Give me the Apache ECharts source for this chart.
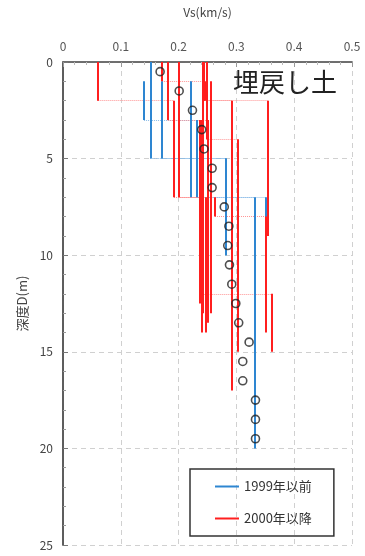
<!DOCTYPE html>
<html><head><meta charset="utf-8">
<script src="https://cdn.jsdelivr.net/npm/echarts@6/dist/echarts.min.js"></script>
<style>html,body{margin:0;padding:0;background:#fff}#c{width:365px;height:556px}</style>
</head><body><div id="c"></div>
<script>
// Vs profiles: each layer = [Vs (km/s), top depth (m), bottom depth (m)]
const pre1999 = [
  [[0.151,0,5],[0.282,5,10]],
  [[0.140,1,3],[0.231,3,7],[0.351,7,12]],
  [[0.221,1,7],[0.331,7,20]],
  [[0.170,1,5],[0.282,5,10]]
];
const post2000 = [
  [[0.060,0,2],[0.192,2,7],[0.240,7,14]],
  [[0.171,0,1],[0.242,1,13]],
  [[0.181,0,3],[0.237,3,12.5]],
  [[0.201,0,7],[0.247,7,14]],
  [[0.242,0,3],[0.250,3,13.5]],
  [[0.243,0,2],[0.355,2,9]],
  [[0.245,1,2],[0.292,2,17]],
  [[0.248,0,4],[0.302,4,15]],
  [[0.263,7,8],[0.350,8,14]],
  [[0.240,3,12],[0.361,12,15]],
  [[0.256,1,13]]
];
const avgDepth = [0.5,1.5,2.5,3.5,4.5,5.5,6.5,7.5,8.5,9.5,10.5,11.5,12.5,13.5,14.5,15.5,16.5,17.5,18.5,19.5];
const avgVs    = [0.168,0.201,0.224,0.240,0.244,0.258,0.258,0.279,0.287,0.285,0.288,0.292,0.299,0.304,0.322,0.311,0.311,0.333,0.333,0.333];
const xTicks = [0,0.1,0.2,0.3,0.4,0.5];
const yTicks = [0,5,10,15,20,25];
const seriesNames = ['1999年以前','2000年以降'];
const titleText = '埋戻し土';

const BLUE = '#2e86d1', RED = '#ff1f1f';
function verticals(profiles){
  const out=[];
  profiles.forEach(p=>p.forEach(([v,t,b])=>out.push({coords:[[v,t],[v,b]]})));
  return out;
}
function connectors(profiles){
  const out=[];
  profiles.forEach(p=>{for(let i=1;i<p.length;i++){out.push({coords:[[p[i-1][0],p[i][1]],[p[i][0],p[i][1]]]});}});
  return out;
}
const FONT = '"Noto Sans CJK JP", "DejaVu Sans", sans-serif';
const chart = echarts.init(document.getElementById('c'), null, {renderer:'canvas'});
chart.setOption({
  animation:false,
  textStyle:{fontFamily:FONT},
  title:{text:titleText,left:228,top:64,textStyle:{fontSize:26,fontWeight:'normal',color:'#222',fontFamily:FONT}},
  grid:{left:63,right:13,top:62,bottom:11},
  legend:{
    orient:'vertical',left:190,top:469,
    padding:[11,22,11,25],itemGap:19,
    borderColor:'#333',borderWidth:1.5,
    icon:'rect',itemWidth:24,itemHeight:2,
    itemStyle:{borderWidth:0},
    textStyle:{fontSize:13,color:'#333',fontFamily:FONT},
    data:[{name:seriesNames[0],itemStyle:{color:BLUE,borderWidth:0}},{name:seriesNames[1],itemStyle:{color:RED,borderWidth:0}}]
  },
  xAxis:[{
    type:'value',position:'top',min:xTicks[0],max:xTicks[xTicks.length-1],interval:0.1,
    name:'Vs(km/s)',nameLocation:'middle',nameGap:44,
    nameTextStyle:{fontSize:12,color:'#444',fontFamily:FONT},
    axisLine:{lineStyle:{color:'#aaa',width:1.5}},
    axisTick:{inside:true,length:5,lineStyle:{color:'#999'}},
    minorTick:{show:true,splitNumber:5,length:3,lineStyle:{color:'#bbb'}},
    axisLabel:{fontSize:12,color:'#555',margin:10,formatter:v=>String(v)},
    splitLine:{show:true,lineStyle:{type:[5,4],color:'#d0d0d0'}}
  },{
    type:'value',position:'bottom',min:0,max:0.5,
    axisLine:{show:true,lineStyle:{color:'#555',width:1.5}},
    axisTick:{show:false},axisLabel:{show:false},splitLine:{show:false}
  }],
  yAxis:[{
    type:'value',inverse:true,min:yTicks[0],max:yTicks[yTicks.length-1],interval:5,
    name:'深度D(m)',nameLocation:'middle',nameGap:34,nameRotate:90,
    nameTextStyle:{fontSize:13,color:'#444',fontFamily:FONT},
    axisLine:{show:true,lineStyle:{color:'#555',width:1.5}},
    axisTick:{inside:true,length:5,lineStyle:{color:'#777'}},
    minorTick:{show:true,splitNumber:5,length:3,lineStyle:{color:'#999'}},
    axisLabel:{fontSize:12,color:'#444',margin:10},
    splitLine:{show:true,lineStyle:{type:[5,4],color:'#d0d0d0'}}
  },{
    type:'value',inverse:true,min:0,max:25,position:'right',
    axisLine:{show:true,lineStyle:{color:'#555',width:1.5}},
    axisTick:{show:false},axisLabel:{show:false},splitLine:{show:false}
  }],
  series:[
    {name:seriesNames[0]+'_c',type:'lines',coordinateSystem:'cartesian2d',xAxisIndex:0,yAxisIndex:0,silent:true,
     lineStyle:{color:'#7fb6e6',width:1,type:'dotted',opacity:0.9},data:connectors(pre1999),z:2},
    {name:seriesNames[1]+'_c',type:'lines',coordinateSystem:'cartesian2d',xAxisIndex:0,yAxisIndex:0,silent:true,
     lineStyle:{color:'#ff8a8a',width:1,type:'dotted',opacity:0.9},data:connectors(post2000),z:2},
    {name:seriesNames[0],type:'lines',coordinateSystem:'cartesian2d',xAxisIndex:0,yAxisIndex:0,silent:true,
     itemStyle:{color:BLUE},lineStyle:{color:BLUE,width:2,opacity:1},data:verticals(pre1999),z:3},
    {name:seriesNames[1],type:'lines',coordinateSystem:'cartesian2d',xAxisIndex:0,yAxisIndex:0,silent:true,
     itemStyle:{color:RED},lineStyle:{color:RED,width:2,opacity:1},data:verticals(post2000),z:4},
    {name:'平均',type:'scatter',xAxisIndex:0,yAxisIndex:0,symbol:'circle',symbolSize:8,silent:true,
     itemStyle:{color:'rgba(0,0,0,0)',borderColor:'#222',borderWidth:1.6},
     data:avgVs.map((v,i)=>[v,avgDepth[i]]),z:5}
  ]
});
</script></body></html>
